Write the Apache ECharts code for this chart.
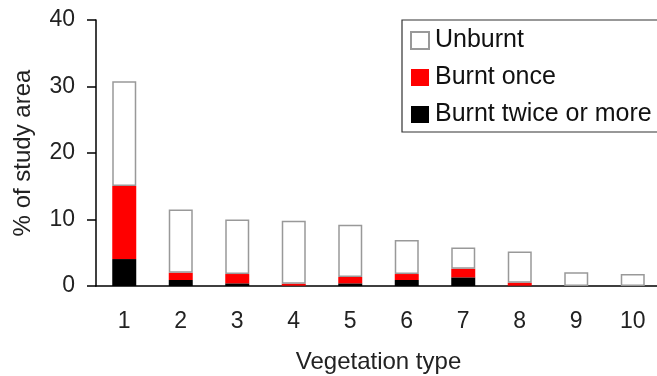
<!DOCTYPE html>
<html>
<head>
<meta charset="utf-8">
<script src="https://cdn.jsdelivr.net/npm/echarts@6/dist/echarts.min.js"></script>
<style>html,body{margin:0;padding:0;background:#fff;}#c{width:657px;height:376px;}</style>
</head>
<body>
<div id="c"></div>
<script>
const categories = ['1','2','3','4','5','6','7','8','9','10'];
const burntTwice = [4.05, 0.9, 0.4, 0.05, 0.4, 0.9, 1.3, 0.05, 0, 0];
const burntOnce  = [11.0, 1.1, 1.4, 0.3, 0.95, 0.9, 1.3, 0.45, 0, 0];
const unburnt    = [15.75, 9.5, 8.2, 9.45, 7.85, 5.1, 3.2, 4.7, 2.05, 1.8];
const yTicks = [0, 10, 20, 30, 40];

const FONT = '"Liberation Sans", Arial, sans-serif';
const chart = echarts.init(document.getElementById('c'));
chart.setOption({
  animation: false,
  grid: { left: 96, right: -4, top: 20, bottom: 90, outerBoundsMode: 'none', containLabel: false },
  legend: {
    orient: 'vertical', left: 402, top: 20,
    data: ['Unburnt', 'Burnt once', 'Burnt twice or more'],
    icon: 'rect', itemWidth: 18, itemHeight: 17, itemGap: 12,
    padding: [8, 40, 5, 8],
    borderColor: '#333', borderWidth: 1.2,
    textStyle: { fontFamily: FONT, fontSize: 25, color: '#111', padding: [0, 0, 0, 1] }
  },
  xAxis: {
    type: 'category', data: categories,
    axisLine: { lineStyle: { color: '#000', width: 1.5 } },
    axisTick: { length: 8, lineStyle: { color: '#000', width: 1.5 } },
    axisLabel: { fontFamily: FONT, fontSize: 23, color: '#222', margin: 24 },
    name: 'Vegetation type', nameLocation: 'middle', nameGap: 64,
    nameTextStyle: { fontFamily: FONT, fontSize: 24, color: '#222' }
  },
  yAxis: {
    type: 'value', min: yTicks[0], max: yTicks[yTicks.length - 1], interval: 10,
    splitLine: { show: false },
    axisLine: { show: true, lineStyle: { color: '#000', width: 1.5 } },
    axisTick: { show: true, length: 9, lineStyle: { color: '#000', width: 1.5 } },
    axisLabel: { fontFamily: FONT, fontSize: 23, color: '#222', margin: 21 },
    name: '% of study area', nameLocation: 'middle', nameGap: 61,
    nameTextStyle: { fontFamily: FONT, fontSize: 24, color: '#222' }
  },
  series: [
    { name: 'Burnt twice or more', type: 'bar', stack: 's', data: burntTwice, barWidth: 24,
      itemStyle: { color: '#000' } },
    { name: 'Burnt once', type: 'bar', stack: 's', data: burntOnce, barWidth: 24,
      itemStyle: { color: '#ff0000' } },
    { name: 'Unburnt', type: 'bar', stack: 's', data: unburnt, barWidth: 24,
      itemStyle: { color: '#fff', borderColor: '#999', borderWidth: 1.5 } }
  ]
});
</script>
</body>
</html>
